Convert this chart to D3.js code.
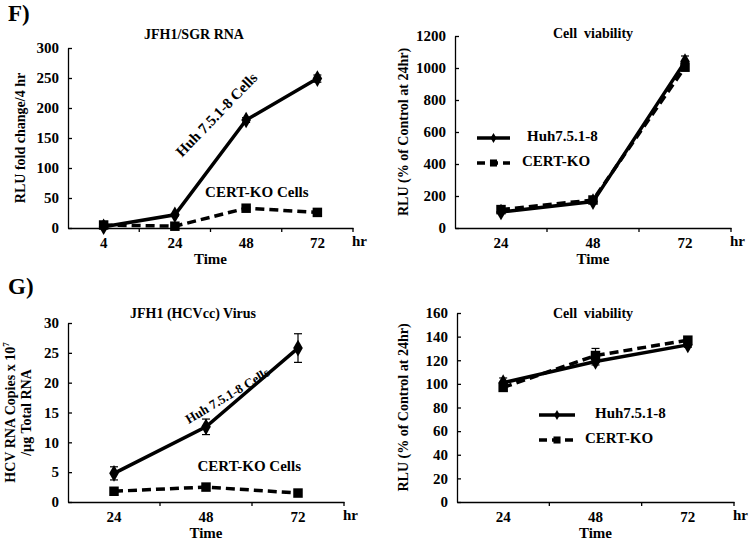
<html>
<head>
<script src="https://d3js.org/d3.v7.min.js"></script>
<style>
  body { margin: 0; background: #fff; }
  svg text { font-family: "Liberation Serif", "Times New Roman", serif !important; font-weight: bold; fill: #000; }
</style>
</head>
<body>
<svg id="fig" width="750" height="541"></svg>
<script>
// ---- data ----
const timesF1 = ["4", "24", "48", "72"];
const sgrHuh = [2, 22, 180, 249];
const sgrHuhErr = [1, 2, 4, 6];
const sgrCert = [5, 3, 33, 26];
const sgrCertErr = [1, 1, 3, 3];

const timesF2 = ["24", "48", "72"];
const viaF_Huh = [100, 165, 1040];
const viaF_HuhErr = [5, 10, 35];
const viaF_Cert = [115, 175, 1005];
const viaF_CertErr = [5, 8, 20];

const timesG1 = ["24", "48", "72"];
const virHuh = [4.8, 12.6, 25.8];
const virHuhErr = [1.1, 1.3, 2.4];
const virCert = [1.8, 2.5, 1.5];
const virCertErr = [0.2, 0.3, 0.3];

const timesG2 = ["24", "48", "72"];
const viaG_Huh = [101, 119, 133];
const viaG_HuhErr = [4, 3, 2];
const viaG_Cert = [97, 124, 137];
const viaG_CertErr = [3, 6, 2];

const ticksF1 = [0, 50, 100, 150, 200, 250, 300];
const ticksF2 = [0, 200, 400, 600, 800, 1000, 1200];
const ticksG1 = [0, 5, 10, 15, 20, 25, 30];
const ticksG2 = [0, 20, 40, 60, 80, 100, 120, 140, 160];

const FONT = "Liberation Serif, Times New Roman, serif";
const svg = d3.select("#fig");

function drawPanel(p) {
  const g = svg.append("g").attr("font-family", FONT).attr("font-weight", "bold");
  const x = d3.scaleBand().domain(p.cats).range([p.x0, p.x1]).padding(0);
  const y = d3.scaleLinear().domain([0, p.ymax]).range([p.yBot, p.yTop]);
  const cx = i => x(p.cats[i]) + x.bandwidth() / 2;

  // y axis, ticks pointing inward
  const yAxis = d3.axisLeft(y).tickValues(p.yticks).tickFormat(d3.format("d"))
    .tickSize(-4).tickSizeOuter(0).tickPadding(9);
  const ya = g.append("g").attr("transform", `translate(${p.x0},0)`).call(yAxis);
  ya.attr("font-family", FONT);
  ya.select(".domain").attr("stroke", "#000").attr("stroke-width", 1.3);
  ya.selectAll(".tick line").attr("stroke", "#000").attr("stroke-width", 1.3);
  ya.selectAll(".tick text").attr("font-family", FONT).style("font-size", "15px");

  // x axis: labels centred in bands, tick marks at band boundaries
  const xAxis = d3.axisBottom(x).tickSize(0).tickSizeOuter(0).tickPadding(9);
  const xa = g.append("g").attr("transform", `translate(0,${p.yBot})`).call(xAxis);
  xa.attr("font-family", FONT);
  xa.select(".domain").attr("stroke", "#000").attr("stroke-width", 1.3);
  xa.selectAll(".tick text").attr("font-family", FONT).style("font-size", "15px");
  g.selectAll("line.bnd").data(p.cats).join("line")
    .attr("class", "bnd")
    .attr("x1", d => x(d) + x.bandwidth()).attr("x2", d => x(d) + x.bandwidth())
    .attr("y1", p.yBot).attr("y2", p.yBot + 4)
    .attr("stroke", "#000").attr("stroke-width", 1.3);

  g.append("text").attr("x", p.x1 - 1).attr("y", p.yBot + 18)
    .style("font-size", "15px").text("hr");
  g.append("text").attr("x", (p.x0 + p.x1) / 2).attr("y", p.yBot + 36)
    .attr("text-anchor", "middle").style("font-size", "15px").text("Time");

  // title
  g.append("text").attr("x", p.titleX).attr("y", p.titleY)
    .attr("text-anchor", "middle").style("font-size", "14px")
    .attr("xml:space", "preserve").style("white-space", "pre").text(p.title);

  // y title (one text element per line)
  p.ytitle.forEach((line, i) => {
    const yt = g.append("text")
      .attr("transform", `translate(${p.ytX + i * 16},${(p.yTop + p.yBot) / 2}) rotate(-90)`)
      .attr("text-anchor", "middle").style("font-size", "14px").text(line.t);
    if (line.sup) yt.append("tspan").attr("dy", -6).style("font-size", "9px").text(line.sup);
  });

  // series
  p.series.forEach(s => {
    const line = d3.line().x((d, i) => cx(i)).y(d => y(d));
    g.append("path").datum(s.vals)
      .attr("fill", "none").attr("stroke", "#000").attr("stroke-width", 3.5)
      .attr("stroke-dasharray", s.dash ? "9,5" : null)
      .attr("d", line);
    // error bars
    s.vals.forEach((v, i) => {
      const e = s.err[i];
      g.append("line").attr("x1", cx(i)).attr("x2", cx(i))
        .attr("y1", y(v - e)).attr("y2", y(v + e)).attr("stroke", "#000").attr("stroke-width", 1.2);
      [v - e, v + e].forEach(b => {
        g.append("line").attr("x1", cx(i) - 4).attr("x2", cx(i) + 4)
          .attr("y1", y(b)).attr("y2", y(b)).attr("stroke", "#000").attr("stroke-width", 1.2);
      });
    });
    const sym = d3.symbol().type(s.dash ? d3.symbolSquare : d3.symbolDiamond).size(s.dash ? 90 : 80);
    g.selectAll(null).data(s.vals).join("path")
      .attr("transform", (d, i) => `translate(${cx(i)},${y(d)})`)
      .attr("d", sym).attr("fill", "#000");
  });

  // annotations inside the plot
  (p.notes || []).forEach(n => {
    const px = x(p.cats[0]) + x.bandwidth() * (n.xi + 0.5);
    g.append("text")
      .attr("transform", `translate(${px},${y(n.y)}) rotate(${n.rot || 0})`)
      .attr("text-anchor", "middle").attr("dominant-baseline", "middle")
      .style("font-size", n.size + "px").text(n.t);
  });

  // legend
  if (p.legend) {
    const L = p.legend;
    [{ t: "Huh7.5.1-8", dash: false, tx: L.tx1 }, { t: "CERT-KO", dash: true, tx: L.tx2 }].forEach((it, i) => {
      const ly = L.y + i * L.gap;
      g.append("line").attr("x1", L.x).attr("x2", L.x + L.w).attr("y1", ly).attr("y2", ly)
        .attr("stroke", "#000").attr("stroke-width", 3.5)
        .attr("stroke-dasharray", it.dash ? "8,5" : null);
      g.append("path").attr("transform", `translate(${L.x + L.w / 2},${ly})`)
        .attr("d", d3.symbol().type(it.dash ? d3.symbolSquare : d3.symbolDiamond).size(it.dash ? 50 : 30))
        .attr("fill", "#000");
      g.append("text").attr("x", it.tx).attr("y", ly).attr("dominant-baseline", "middle")
        .style("font-size", "15px").text(it.t);
    });
  }
}

drawPanel({
  cats: timesF1, ymax: 300, yticks: ticksF1,
  x0: 68, x1: 353, yTop: 48, yBot: 228,
  title: "JFH1/SGR RNA", titleX: 194, titleY: 39,
  ytX: 25, ytitle: [{ t: "RLU fold change/4 hr" }],
  series: [
    { vals: sgrHuh, err: sgrHuhErr, dash: false },
    { vals: sgrCert, err: sgrCertErr, dash: true }
  ],
  notes: [
    { t: "Huh 7.5.1-8 Cells", xi: 1.6, y: 187, rot: -46, size: 15 },
    { t: "CERT-KO Cells", xi: 2.15, y: 58, size: 15 }
  ]
});

drawPanel({
  cats: timesF2, ymax: 1200, yticks: ticksF2,
  x0: 455, x1: 731, yTop: 36, yBot: 228,
  title: "Cell  viability", titleX: 593, titleY: 38,
  ytX: 408, ytitle: [{ t: "RLU (% of Control at 24hr)" }],
  series: [
    { vals: viaF_Huh, err: viaF_HuhErr, dash: false },
    { vals: viaF_Cert, err: viaF_CertErr, dash: true }
  ],
  legend: { x: 477, w: 33, y: 138, gap: 25, tx1: 527, tx2: 522 }
});

drawPanel({
  cats: timesG1, ymax: 30, yticks: ticksG1,
  x0: 68, x1: 344, yTop: 323, yBot: 502,
  title: "JFH1 (HCVcc) Virus", titleX: 193, titleY: 318,
  ytX: 15, ytitle: [{ t: "HCV RNA Copies x 10", sup: "7" }, { t: "/\u00b5g Total RNA" }],
  series: [
    { vals: virHuh, err: virHuhErr, dash: false },
    { vals: virCert, err: virCertErr, dash: true }
  ],
  notes: [
    { t: "Huh 7.5.1-8 Cells", xi: 1.24, y: 17.6, rot: -31, size: 13 },
    { t: "CERT-KO Cells", xi: 1.47, y: 5.7, size: 15 }
  ]
});

drawPanel({
  cats: timesG2, ymax: 160, yticks: ticksG2,
  x0: 457, x1: 734, yTop: 313, yBot: 502,
  title: "Cell  viability", titleX: 593, titleY: 318,
  ytX: 408, ytitle: [{ t: "RLU (% of Control at 24hr)" }],
  series: [
    { vals: viaG_Huh, err: viaG_HuhErr, dash: false },
    { vals: viaG_Cert, err: viaG_CertErr, dash: true }
  ],
  legend: { x: 539, w: 36, y: 415, gap: 25, tx1: 595, tx2: 585 }
});

// panel letters
svg.append("text").attr("x", 8).attr("y", 21).attr("font-family", FONT).style("font-size", "23px").text("F)");
svg.append("text").attr("x", 8).attr("y", 294).attr("font-family", FONT).style("font-size", "23px").text("G)");
</script>
</body>
</html>
